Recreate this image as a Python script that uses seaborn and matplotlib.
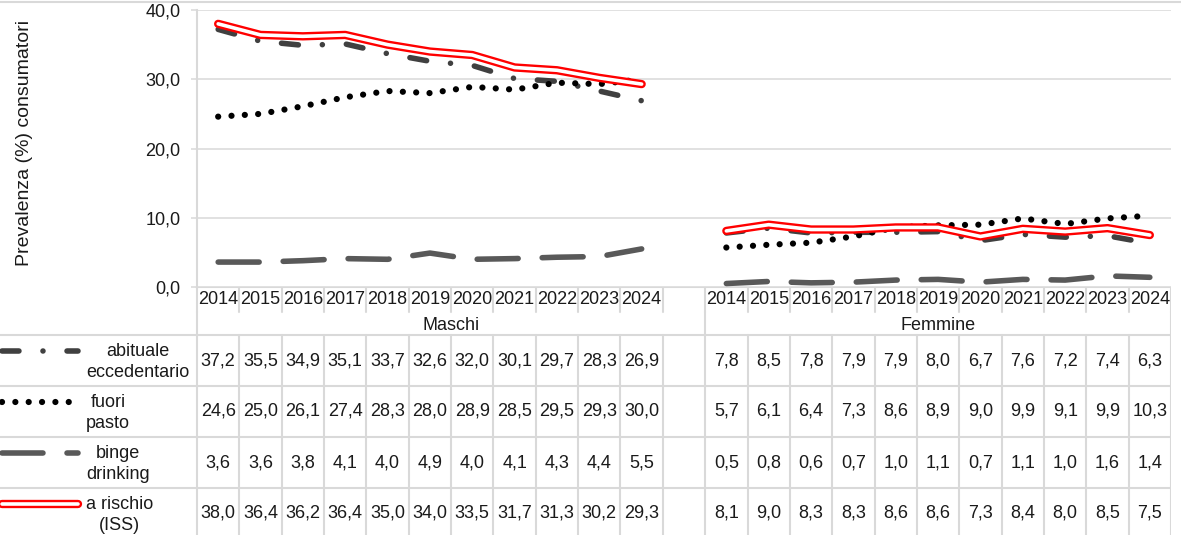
import numpy as np
import pandas as pd
import matplotlib
matplotlib.use("Agg")
import matplotlib.pyplot as plt
from matplotlib.lines import Line2D
import seaborn as sns

years = [2014, 2015, 2016, 2017, 2018, 2019, 2020, 2021, 2022, 2023, 2024]
groups = ["Maschi", "Femmine"]
series_labels = ["abituale\neccedentario", "fuori\npasto", "binge\ndrinking", "a rischio\n(ISS)"]

abituale_m = [37.2, 35.5, 34.9, 35.1, 33.7, 32.6, 32.0, 30.1, 29.7, 28.3, 26.9]
fuori_m = [24.6, 25.0, 26.1, 27.4, 28.3, 28.0, 28.9, 28.5, 29.5, 29.3, 30.0]
binge_m = [3.6, 3.6, 3.8, 4.1, 4.0, 4.9, 4.0, 4.1, 4.3, 4.4, 5.5]
rischio_m = [38.0, 36.4, 36.2, 36.4, 35.0, 34.0, 33.5, 31.7, 31.3, 30.2, 29.3]

abituale_f = [7.8, 8.5, 7.8, 7.9, 7.9, 8.0, 6.7, 7.6, 7.2, 7.4, 6.3]
fuori_f = [5.7, 6.1, 6.4, 7.3, 8.6, 8.9, 9.0, 9.9, 9.1, 9.9, 10.3]
binge_f = [0.5, 0.8, 0.6, 0.7, 1.0, 1.1, 0.7, 1.1, 1.0, 1.6, 1.4]
rischio_f = [8.1, 9.0, 8.3, 8.3, 8.6, 8.6, 7.3, 8.4, 8.0, 8.5, 7.5]

yticks = [0, 10, 20, 30, 40]

# long table, Femmine shifted by one empty category
keys = ["abituale", "fuori", "binge", "rischio"]
vals_m = [abituale_m, fuori_m, binge_m, rischio_m]
vals_f = [abituale_f, fuori_f, binge_f, rischio_f]
rows = []
for k, m, f in zip(keys, vals_m, vals_f):
    for i in range(len(years)):
        rows.append(dict(serie=k, sesso="Maschi", pos=i, val=m[i]))
        rows.append(dict(serie=k, sesso="Femmine", pos=len(years) + 1 + i, val=f[i]))
df = pd.DataFrame(rows)

sns.set_style("white")
plt.rcParams["font.family"] = ["Liberation Sans", "DejaVu Sans"]
plt.rcParams["lines.scale_dashes"] = False

W, H = 1181, 535
fig = plt.figure(figsize=(W / 100, H / 100), dpi=100)
L, R = 197, 1171
ncat = 2 * len(years) + 1
colw = (R - L) / ncat
top_px, axis_px, bot_px = 10, 287, 539
grid_c = "#d9d9d9"
txt_c = "#1a1a1a"
fs = 13

ax = fig.add_axes([L / W, (H - axis_px) / H, (R - L) / W, (axis_px - top_px) / H])
ax.set_xlim(-0.5, ncat - 0.5)
ax.set_ylim(0, 40)
ax.set_yticks(yticks)
ax.set_yticklabels([f"{t:.1f}".replace(".", ",") for t in yticks], fontsize=fs, color=txt_c)
ax.set_xticks([])
ax.yaxis.grid(True, color=grid_c, lw=1.1)
ax.tick_params(axis="y", length=4, width=1.1, color=grid_c, pad=8, left=True)
for s in ["top", "right", "bottom"]:
    ax.spines[s].set_visible(False)
ax.spines["left"].set_color(grid_c)
ax.spines["left"].set_linewidth(1.5)
ax.set_ylabel("Prevalenza (%) consumatori", fontsize=14, color=txt_c)
ax.yaxis.set_label_coords((33 - L) / (R - L), (axis_px - 143) / (axis_px - top_px))

styles = {
    "abituale": dict(color="#404040", linewidth=4.0, linestyle=(0, (12.2, 17.3, 0.01, 17.3)),
                     dash_capstyle="round"),
    "fuori": dict(color="black", linewidth=4.5, linestyle=(0, (0.01, 9.6)), dash_capstyle="round"),
    "binge": dict(color="#595959", linewidth=4.0, linestyle=(0, (29.5, 17.3)), dash_capstyle="round"),
}

for k in keys:
    for g in groups:
        sub = df[(df.serie == k) & (df.sesso == g)]
        if k == "rischio":
            sns.lineplot(data=sub, x="pos", y="val", ax=ax, color="#ff0000", linewidth=6.0,
                         solid_capstyle="round", solid_joinstyle="round", clip_on=False)
            sns.lineplot(data=sub, x="pos", y="val", ax=ax, color="white", linewidth=2.6,
                         solid_capstyle="round", solid_joinstyle="round", clip_on=False)
        else:
            sns.lineplot(data=sub, x="pos", y="val", ax=ax, clip_on=False, **styles[k])
ax.set_xlabel("")
ax.set_xlim(-0.5, ncat - 0.5)
ax.set_ylim(0, 40)

# data table below the plot
xl = -0.5 - L / colw
axt = fig.add_axes([0, (H - bot_px) / H, R / W, (bot_px - axis_px) / H])
axt.set_xlim(xl, ncat - 0.5)
axt.set_ylim(bot_px, axis_px)
axt.axis("off")

tlw = 1.5
year_bot, group_bot = 312, 335
row_tops = [335, 386, 437, 488]
for k in range(ncat + 1):
    x = -0.5 + k
    axt.plot([x, x], [axis_px, year_bot], color=grid_c, lw=tlw)
    axt.plot([x, x], [group_bot, bot_px], color=grid_c, lw=tlw)
for x in [-0.5, len(years) + 0.5, ncat - 0.5]:
    axt.plot([x, x], [year_bot, group_bot], color=grid_c, lw=tlw)
axt.plot([-0.5, ncat - 0.5], [axis_px, axis_px], color=grid_c, lw=tlw)
for y in row_tops:
    axt.plot([xl, ncat - 0.5], [y, y], color=grid_c, lw=tlw)

for i, yr in enumerate(years):
    for off in [0, len(years) + 1]:
        axt.text(i + off, 299, str(yr), ha="center", va="center", fontsize=fs, color=txt_c)
axt.text(len(years) / 2, 325, groups[0], ha="center", va="center", fontsize=fs, color=txt_c)
axt.text(len(years) + 1 + (len(years) - 1) / 2, 325, groups[1], ha="center", va="center",
         fontsize=fs, color=txt_c)

for r, (k, m, f) in enumerate(zip(keys, vals_m, vals_f)):
    yc = row_tops[r] + 25.5
    for i in range(len(years)):
        axt.text(i, yc, f"{m[i]:.1f}".replace(".", ","), ha="center", va="center",
                 fontsize=fs, color=txt_c)
        axt.text(len(years) + 1 + i, yc, f"{f[i]:.1f}".replace(".", ","), ha="center",
                 va="center", fontsize=fs, color=txt_c)
    # legend key
    ys = row_tops[r] + 16
    xs = [xl + 2 / colw, xl + 78 / colw]
    if k == "rischio":
        axt.plot(xs, [ys, ys], color="#ff0000", lw=6.0, solid_capstyle="round")
        axt.plot(xs, [ys, ys], color="white", lw=2.6, solid_capstyle="round")
    else:
        axt.plot(xs, [ys, ys], **styles[k])
    axt.text(xl + 86 / colw, row_tops[r] + 27, series_labels[r], ha="left", va="center",
             multialignment="center", linespacing=1.25, fontsize=fs, color=txt_c)

fig.add_artist(Line2D([0, 1], [1 - 1.5 / H, 1 - 1.5 / H], transform=fig.transFigure,
                      color=grid_c, lw=1.5))

fig.savefig("out.png", dpi=100)
